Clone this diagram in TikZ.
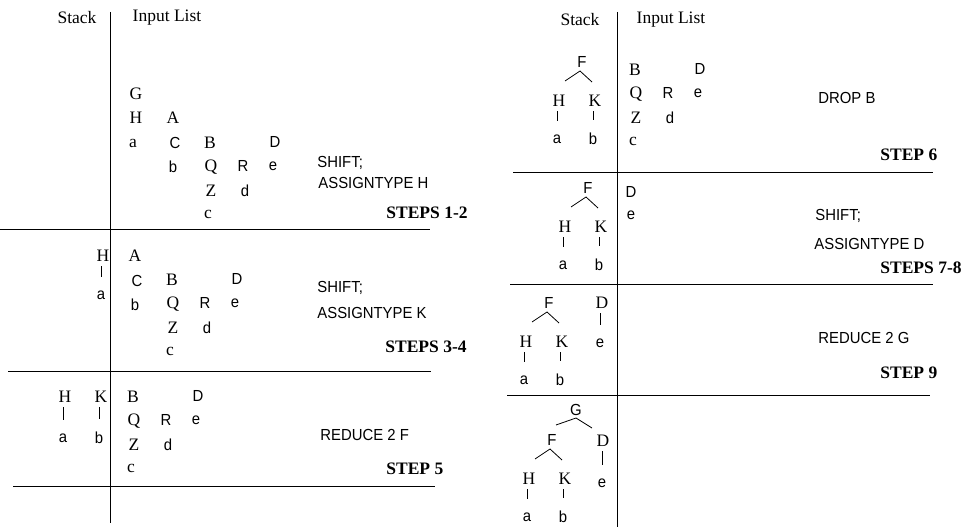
\documentclass[tikz,border=0pt]{standalone}
\usepackage{fontspec}
\setmainfont{Liberation Serif}
\newfontfamily\helv[FakeStretch=0.93]{Liberation Sans}

\tikzset{
  serifchar/.style={inner sep=0pt, font=\fontsize{17.5}{20}\selectfont},
  sanschar/.style={inner sep=0pt, font=\helv\fontsize{16}{18}\selectfont},
  action/.style={sanschar, anchor=west},
  stepname/.style={inner sep=0pt, anchor=west, font=\bfseries\fontsize{17.5}{20}\selectfont},
  vbar/.style={shorten <=4pt, shorten >=13pt},
}

\begin{document}
\begin{tikzpicture}[x=1pt, y=-1pt, line width=0.8pt]
\useasboundingbox (0,0) rectangle (969,527);
% left half: steps 1-5
\node[serifchar] (stackL) at (77,18) {Stack};
\node[serifchar] (inputL) at (167,18) {Input List};
\draw (110,12) -- (110,523);
\draw (0,229) -- (430,229);
\draw (8,371) -- (431,371);
\draw (13,486) -- (435,486);
\node[serifchar] (G1) at (136,94) {G};
\node[serifchar] (H1) at (136,118) {H};
\node[serifchar] (a1) at (133,143) {a};
\node[serifchar] (H3) at (103,256) {H};
\node[sanschar] (a3) at (101,295) {a};
\draw[vbar] (a3.north |- H3.south) -- (a3.north);
\node[serifchar] (H5) at (65,397) {H};
\node[serifchar] (K5) at (101,397) {K};
\node[sanschar] (a5) at (63,438) {a};
\node[sanschar] (b5) at (99,438) {b};
\draw[vbar] (a5.north |- H5.south) -- (a5.north);
\draw[vbar] (b5.north |- K5.south) -- (b5.north);
\foreach \ax/\ay/\s in {173/118/1, 135/256/3} {
  \node[serifchar] (A\s) at (\ax,\ay) {A};
  \node[sanschar] (C\s) at (\ax+2,\ay+25) {C};
  \node[sanschar] (b\s) at (\ax,\ay+49) {b};
}
\foreach \bx/\by/\s in {210/143/1, 172/280/3, 133/397/5, 635/70/6} {
  \node[serifchar] (B\s) at (\bx,\by) {B};
  \node[serifchar] (Q\s) at (\bx+1,\by+24) {Q};
  \node[serifchar] (Z\s) at (\bx+1,\by+48) {Z};
  \node[serifchar] (c\s) at (\bx-2,\by+71) {c};
  \node[sanschar] (R\s) at (\bx+33,\by+23) {R};
  \node[sanschar] (d\s) at (\bx+35,\by+48) {d};
  \node[sanschar] (D\s) at (\bx+65,\by-1) {D};
  \node[sanschar] (e\s) at (\bx+63,\by+23) {e};
}
\node[action] (act1) at (317,163) {SHIFT;};
\node[action] (act2) at (318,183) {ASSIGNTYPE H};
\node[action] (act3) at (317,288) {SHIFT;};
\node[action] (act4) at (317,313) {ASSIGNTYPE K};
\node[action] (act5) at (320,435) {REDUCE 2 F};
\node[stepname] (step12) at (386,213) {STEPS 1-2};
\node[stepname] (step34) at (385,347) {STEPS 3-4};
\node[stepname] (step5) at (386,469) {STEP 5};
% right half: steps 6-9
\node[serifchar] (stackR) at (580,20) {Stack};
\node[serifchar] (inputR) at (671,20) {Input List};
\draw (617,12) -- (617,527);
\draw (513,172) -- (933,172);
\draw (510,284) -- (933,284);
\draw (507,395) -- (930,395);
\foreach \fx/\fy/\s in {582/62/6, 588/188/7, 549/303/9, 552/440/10} {
  \node[sanschar] (F\s) at (\fx,\fy) {F};
  \node[serifchar] (H\s) at (\fx-23,\fy+39) {H};
  \node[serifchar] (K\s) at (\fx+13,\fy+39) {K};
  \node[sanschar] (a\s) at (\fx-25,\fy+77) {a};
  \node[sanschar] (b\s) at (\fx+11,\fy+77) {b};
  \coordinate (top\s) at (\fx-2,\fy+9);
  \draw ([shift={(-15,10)}]top\s) -- (top\s) -- ([shift={(12,11)}]top\s);
  \draw[vbar] (a\s.north |- H\s.south) -- (a\s.north);
  \draw[vbar] (b\s.north |- K\s.south) -- (b\s.north);
}
\node[sanschar] (D7) at (631,192) {D};
\node[sanschar] (e7) at (631,215) {e};
\node[serifchar] (D9) at (602,303) {D};
\node[sanschar] (e9) at (600,343) {e};
\draw[vbar] (e9.north |- D9.south) -- (e9.north);
\node[sanschar] (G10) at (576,410) {G};
\coordinate (topG) at (576,418);
\draw ([shift={(-20,7)}]topG) -- (topG) -- ([shift={(16,10)}]topG);
\node[serifchar] (D10) at (603,441) {D};
\node[sanschar] (e10) at (602,483) {e};
\draw[vbar] (e10.north |- D10.south) -- (e10.north);
\node[action] (act6) at (818,98) {DROP B};
\node[action] (act7) at (815,216) {SHIFT;};
\node[action] (act8) at (814,244) {ASSIGNTYPE D};
\node[action] (act9) at (818,338) {REDUCE 2 G};
\node[stepname] (step6) at (880,155) {STEP 6};
\node[stepname] (step78) at (880,268) {STEPS 7-8};
\node[stepname] (step9) at (880,373) {STEP 9};
\end{tikzpicture}
\end{document}
